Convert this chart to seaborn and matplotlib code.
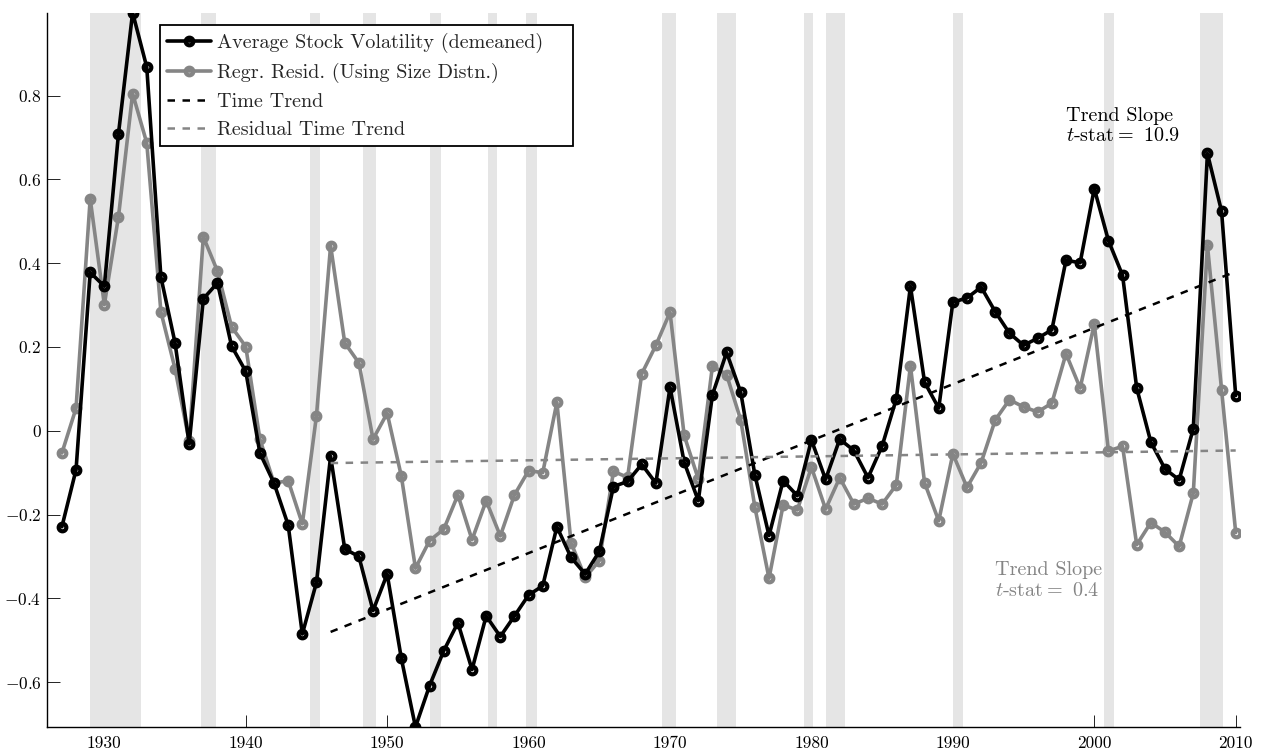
import numpy as np
import pandas as pd
import matplotlib
matplotlib.use("Agg")
import matplotlib.pyplot as plt
import seaborn as sns

# ----------------------
# Datos
# ----------------------
years = list(range(1927, 2011))

volatility = [
    -0.229, -0.093, 0.378, 0.345, 0.709, 0.998, 0.868, 0.367, 0.210, -0.031,
    0.315, 0.353, 0.202, 0.142, -0.053, -0.125, -0.225, -0.485, -0.362, -0.061,
    -0.282, -0.300, -0.429, -0.342, -0.543, -0.707, -0.608, -0.525, -0.458, -0.570,
    -0.442, -0.491, -0.442, -0.392, -0.370, -0.229, -0.302, -0.342, -0.288, -0.133,
    -0.121, -0.080, -0.125, 0.104, -0.075, -0.167, 0.086, 0.187, 0.092, -0.105,
    -0.250, -0.119, -0.155, -0.022, -0.116, -0.020, -0.047, -0.112, -0.036, 0.076,
    0.345, 0.116, 0.054, 0.307, 0.317, 0.343, 0.284, 0.233, 0.204, 0.221,
    0.241, 0.407, 0.401, 0.578, 0.454, 0.371, 0.102, -0.027, -0.091, -0.117,
    0.005, 0.662, 0.524, 0.084,
]

residual = [
    -0.053, 0.054, 0.554, 0.301, 0.511, 0.805, 0.687, 0.284, 0.148, -0.025,
    0.463, 0.381, 0.248, 0.201, -0.020, -0.125, -0.119, -0.222, 0.036, 0.442,
    0.210, 0.162, -0.020, 0.042, -0.108, -0.328, -0.262, -0.235, -0.153, -0.260,
    -0.167, -0.251, -0.153, -0.095, -0.100, 0.068, -0.267, -0.350, -0.310, -0.097,
    -0.111, 0.136, 0.204, 0.283, -0.011, -0.115, 0.155, 0.134, 0.026, -0.182,
    -0.352, -0.177, -0.189, -0.087, -0.187, -0.112, -0.175, -0.161, -0.175, -0.129,
    0.155, -0.124, -0.215, -0.055, -0.135, -0.076, 0.026, 0.074, 0.057, 0.045,
    0.066, 0.184, 0.102, 0.255, -0.048, -0.037, -0.272, -0.219, -0.242, -0.276,
    -0.149, 0.443, 0.098, -0.243,
]

trend_years = [1946, 2010]
trend_vol = [-0.480, 0.380]
trend_resid = [-0.077, -0.047]

# recesiones (bandas grises)
rec_start = [1929.0, 1936.8, 1944.55, 1948.3, 1953.0, 1957.1, 1959.8,
             1969.45, 1973.35, 1979.5, 1981.05, 1990.0, 2000.7, 2007.5]
rec_end = [1932.6, 1937.9, 1945.25, 1949.2, 1953.8, 1957.8, 1960.6,
           1970.4, 1974.7, 1980.1, 1982.4, 1990.75, 2001.4, 2009.1]

xticks = [1930, 1940, 1950, 1960, 1970, 1980, 1990, 2000, 2010]
yticks = [-0.6, -0.4, -0.2, 0.0, 0.2, 0.4, 0.6, 0.8]
ytick_labels = ["$-0.6$", "$-0.4$", "$-0.2$", "$0$", "$0.2$", "$0.4$", "$0.6$", "$0.8$"]

df = pd.DataFrame({"year": years, "vol": volatility, "resid": residual})

# ----------------------
# Estilo
# ----------------------
sns.set_theme(style="white")
plt.rcParams["font.family"] = ["cmr10", "DejaVu Serif"]
plt.rcParams["mathtext.fontset"] = "cm"
plt.rcParams["axes.formatter.use_mathtext"] = True

BLACK = "#000000"
GREY = "#858585"
SHADE = "#e5e5e5"

fig = plt.figure(figsize=(12.65, 7.52), dpi=100)
ax = fig.add_axes([0.0372, 0.0332, 0.943, 0.950])
ax.set_axisbelow(True)

for s, e in zip(rec_start, rec_end):
    ax.axvspan(s, e, color=SHADE, lw=0, zorder=1)

sns.lineplot(data=df, x="year", y="vol", ax=ax, color=BLACK, lw=2.6,
             marker="o", markersize=5.5, markerfacecolor="none",
             markeredgecolor=BLACK, markeredgewidth=3,
             label="Average Stock Volatility (demeaned)", zorder=4)
sns.lineplot(data=df, x="year", y="resid", ax=ax, color=GREY, lw=2.6,
             marker="o", markersize=5.5, markerfacecolor="none",
             markeredgecolor=GREY, markeredgewidth=3,
             label="Regr. Resid. (Using Size Distn.)", zorder=3)
sns.lineplot(x=trend_years, y=trend_vol, ax=ax, color=BLACK, lw=1.8,
             linestyle=(0, (3, 3)), label="Time Trend", zorder=5)
sns.lineplot(x=trend_years, y=trend_resid, ax=ax, color=GREY, lw=1.8,
             linestyle=(0, (3, 3)), label="Residual Time Trend", zorder=5)

ax.text(1998.0, 0.752, "Trend Slope", fontsize=14.5, color=BLACK, va="center")
ax.text(1998.0, 0.703, "$t$-stat$=$ 10.9", fontsize=14.5, color=BLACK, va="center")
ax.text(1993.0, -0.332, "Trend Slope", fontsize=14.5, color=GREY, va="center")
ax.text(1993.0, -0.382, "$t$-stat$=$ 0.4", fontsize=14.5, color=GREY, va="center")

ax.set_xlim(1925.95, 2010.3)
ax.set_ylim(min(volatility), max(volatility))
ax.set_xticks(xticks)
ax.set_xticklabels([str(x) for x in xticks])
ax.set_yticks(yticks)
ax.set_yticklabels(ytick_labels)
ax.set_xlabel("")
ax.set_ylabel("")
ax.tick_params(axis="both", direction="in", length=9, width=0.6, colors="black",
               labelsize=12.5, left=True, bottom=True)
ax.tick_params(axis="y", pad=4)
ax.tick_params(axis="x", pad=6)

for side in ["top", "right"]:
    ax.spines[side].set_visible(False)
for side in ["left", "bottom"]:
    ax.spines[side].set_color("black")
    ax.spines[side].set_linewidth(1.0)

leg = ax.legend(loc="upper left", bbox_to_anchor=(0.0947, 0.0, 0.346, 0.982),
                mode="expand", borderaxespad=0,
                fontsize=14.5, frameon=True, fancybox=False, handlelength=2.2,
                handletextpad=0.3, labelspacing=0.5, borderpad=0.35)
leg.get_frame().set_edgecolor("black")
leg.get_frame().set_linewidth(1.3)
leg.get_frame().set_alpha(1)

fig.savefig("out.png", dpi=100, facecolor="white")
